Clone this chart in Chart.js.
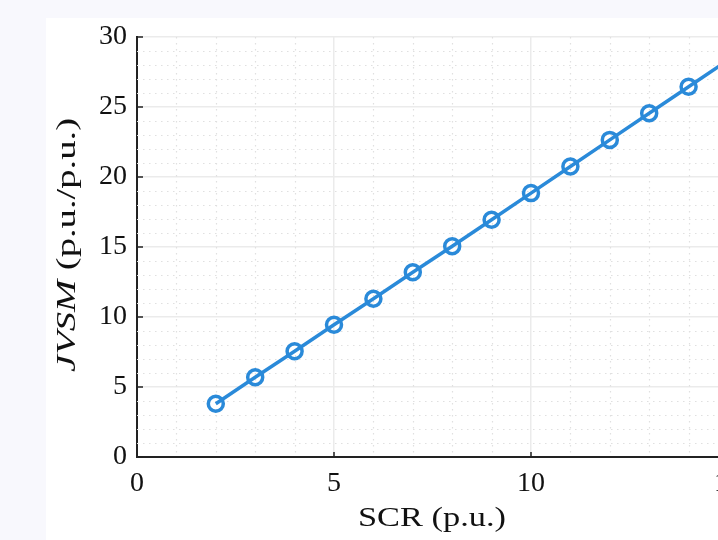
<!DOCTYPE html>
<html lang="en">
<head>
  <meta charset="UTF-8" />
  <title>JVSM vs SCR</title>
  <script src="https://cdn.jsdelivr.net/npm/chart.js"></script>
  <style>
    html, body {
      margin: 0;
      width: 718px;
      height: 540px;
      overflow: hidden;
      background: #f8f8fd;
    }

    .panel {
      position: absolute;
      left: 46px;
      top: 18px;
      width: 740px;
      height: 522px;
      background: #ffffff;
    }
  </style>
</head>
<body>
  <div class="panel">
    <canvas id="scrChart" width="740" height="522"></canvas>
  </div>

  <script>
    // values
    const scrValues = [2, 3, 4, 5, 6, 7, 8, 9, 10, 11, 12, 13, 14, 15];
    const jvsmValues = [3.8, 5.7, 7.55, 9.45, 11.3, 13.2, 15.05, 16.95, 18.85, 20.75, 22.65, 24.55, 26.45, 28.35];
    const xTicks = [0, 5, 10, 15];
    const yTicks = [0, 5, 10, 15, 20, 25, 30];

    const serif = "'Liberation Serif', 'DejaVu Serif', serif";
    const lineBlue = "#2a8ad9";

    // dotted minor grid + inward tick marks
    const minorGrid = {
      id: "minorGrid",
      beforeDatasetsDraw(chart) {
        const { ctx, chartArea, scales } = chart;
        ctx.save();
        ctx.strokeStyle = "#e0e0e0";
        ctx.lineWidth = 1.2;
        ctx.setLineDash([1.5, 4.5]);
        for (let v = 1; v < 15; v++) {
          if (v % 5 === 0) continue;
          const px = Math.round(scales.x.getPixelForValue(v)) + 0.5;
          ctx.beginPath();
          ctx.moveTo(px, chartArea.top);
          ctx.lineTo(px, chartArea.bottom);
          ctx.stroke();
        }
        for (let v = 1; v < 30; v++) {
          if (v % 5 === 0) continue;
          const py = Math.round(scales.y.getPixelForValue(v)) + 0.5;
          ctx.beginPath();
          ctx.moveTo(chartArea.left, py);
          ctx.lineTo(chartArea.right, py);
          ctx.stroke();
        }
        ctx.restore();
      },
      afterDatasetsDraw(chart) {
        const { ctx, chartArea, scales } = chart;
        ctx.save();
        ctx.strokeStyle = "#222";
        ctx.lineWidth = 1.5;
        xTicks.forEach(v => {
          const px = scales.x.getPixelForValue(v);
          ctx.beginPath();
          ctx.moveTo(px, chartArea.bottom);
          ctx.lineTo(px, chartArea.bottom - 5);
          ctx.stroke();
        });
        yTicks.forEach(v => {
          const py = scales.y.getPixelForValue(v);
          ctx.beginPath();
          ctx.moveTo(chartArea.left, py);
          ctx.lineTo(chartArea.left + 6, py);
          ctx.stroke();
        });
        ctx.restore();
      }
    };

    // axis titles; the y one has an italic part. Both are stretched a bit
    // sideways to get the width of the original LaTeX lettering.
    function stretchedText(ctx, parts, x, y, width, rotate) {
      let total = 0;
      parts.forEach(p => { ctx.font = p.font; p.w = ctx.measureText(p.text).width; total += p.w; });
      ctx.save();
      ctx.translate(x, y);
      if (rotate) ctx.rotate(-Math.PI / 2);
      ctx.scale(width / total, 1);
      let pos = -total / 2;
      parts.forEach(p => {
        ctx.font = p.font;
        ctx.fillText(p.text, pos, 0);
        pos += p.w;
      });
      ctx.restore();
    }

    const axisTitles = {
      id: "axisTitles",
      afterDraw(chart) {
        const { ctx } = chart;
        ctx.save();
        ctx.fillStyle = "#111";
        ctx.textBaseline = "middle";
        ctx.textAlign = "left";
        stretchedText(ctx, [{ text: "SCR (p.u.)", font: "27px " + serif }], 386, 501, 148, false);
        stretchedText(ctx, [
          { text: "JVSM", font: "italic 27px " + serif },
          { text: " (p.u./p.u.)", font: "27px " + serif }
        ], 22, 227, 254, true);
        ctx.restore();
      }
    };

    new Chart(document.getElementById("scrChart"), {
      type: "line",
      data: {
        labels: scrValues,
        datasets: [{
          data: scrValues.map((x, i) => ({ x: x, y: jvsmValues[i] })),
          borderColor: lineBlue,
          borderWidth: 3.5,
          pointRadius: 7.5,
          pointBorderWidth: 3.5,
          pointBackgroundColor: "rgba(0,0,0,0)",
          pointBorderColor: lineBlue,
          tension: 0,
          fill: false
        }]
      },
      options: {
        responsive: false,
        animation: false,
        devicePixelRatio: 1,
        layout: { padding: { top: 19, right: 58, left: 0, bottom: 0 } },
        plugins: {
          legend: { display: false },
          tooltip: { enabled: false }
        },
        scales: {
          x: {
            type: "linear",
            min: 0,
            max: 15,
            afterFit: s => { s.height = 83; s.paddingLeft = 0; s.paddingRight = 0; },
            afterBuildTicks: s => { s.ticks = xTicks.map(v => ({ value: v })); },
            ticks: { color: "#111", font: { family: serif, size: 28 }, padding: 10, maxRotation: 0 },
            grid: { color: "#ebebeb", lineWidth: 1.5, drawTicks: false },
            border: { color: "#222", width: 2 }
          },
          y: {
            min: 0,
            max: 30,
            afterFit: s => { s.width = 91; s.paddingTop = 0; s.paddingBottom = 0; },
            afterBuildTicks: s => { s.ticks = yTicks.map(v => ({ value: v })); },
            ticks: { color: "#111", font: { family: serif, size: 28 }, padding: 10 },
            grid: { color: "#ebebeb", lineWidth: 1.5, drawTicks: false },
            border: { color: "#222", width: 2 }
          }
        }
      },
      plugins: [minorGrid, axisTitles]
    });
  </script>
</body>
</html>
